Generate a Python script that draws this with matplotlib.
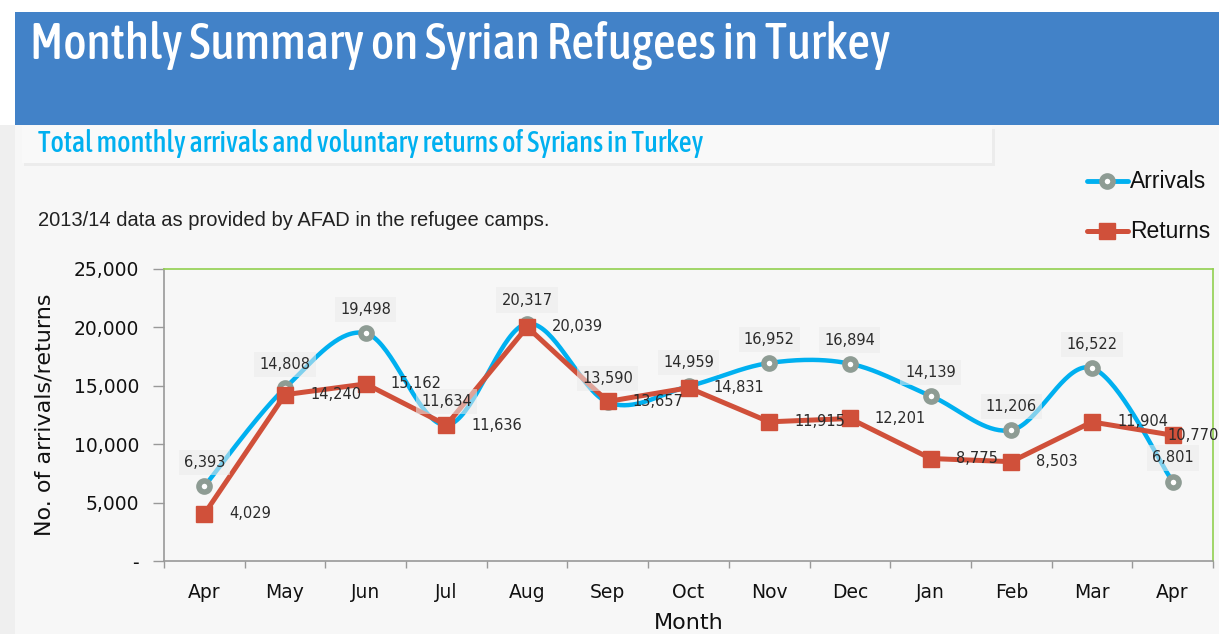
import numpy as np
import matplotlib
matplotlib.use("Agg")
import matplotlib.pyplot as plt
from matplotlib.patches import Rectangle
from matplotlib.lines import Line2D
from matplotlib import font_manager as fm

months = ["Apr", "May", "Jun", "Jul", "Aug", "Sep", "Oct", "Nov", "Dec", "Jan", "Feb", "Mar", "Apr"]
arrivals = [6393, 14808, 19498, 11634, 20317, 13590, 14959, 16952, 16894, 14139, 11206, 16522, 6801]
returns = [4029, 14240, 15162, 11636, 20039, 13657, 14831, 11915, 12201, 8775, 8503, 11904, 10770]
yticks = [0, 5000, 10000, 15000, 20000, 25000]
ytick_labels = ["-", "5,000", "10,000", "15,000", "20,000", "25,000"]
series_names = ["Arrivals", "Returns"]

title = "Monthly Summary on Syrian Refugees in Turkey"
subtitle = "Total monthly arrivals and voluntary returns of Syrians in Turkey"
note = "2013/14 data as provided by AFAD in the refugee camps."


def _w(v):
    if isinstance(v, (int, float)):
        return v
    return fm.weight_dict.get(str(v), 400)


def pick_condensed(target_weight):
    cands = []
    for f in fm.fontManager.ttflist:
        nm = f.name.lower()
        st = f.stretch
        cond = ("condensed" in nm or "narrow" in nm
                or str(st) in ("condensed", "semi-condensed", "extra-condensed")
                or (isinstance(st, int) and st < 500))
        if cond and str(f.style) == "normal" and f.fname.lower().endswith((".ttf", ".otf")):
            cands.append(f)
    if not cands:
        return fm.FontProperties(family="DejaVu Sans",
                                 weight="bold" if target_weight >= 600 else "normal")
    best = min(cands, key=lambda f: abs(_w(f.weight) - target_weight))
    return fm.FontProperties(fname=best.fname)


FP_TITLE = pick_condensed(500)

W, H = 1219, 634
fig = plt.figure(figsize=(W / 100, H / 100), dpi=100, facecolor="white")
renderer = fig.canvas.get_renderer()


def fx(x):
    return x / W


def fy(y):
    return 1 - y / H


def fit(t, target):
    w = t.get_window_extent(renderer=renderer).width
    t.set_fontsize(t.get_fontsize() * target / w)


# background panels
fig.add_artist(Rectangle((fx(0), 0), fx(15), fy(125), transform=fig.transFigure,
                         facecolor="#efefef", edgecolor="none", zorder=0))
fig.add_artist(Rectangle((fx(15), 0), 1 - fx(15), fy(125), transform=fig.transFigure,
                         facecolor="#f7f7f7", edgecolor="none", zorder=0))
fig.add_artist(Rectangle((fx(15), fy(125)), 1 - fx(15), fy(12) - fy(125), transform=fig.transFigure,
                         facecolor="#4282c8", edgecolor="none", zorder=1))
# subtitle box with soft shadow
fig.add_artist(Rectangle((fx(24), fy(166)), fx(971), fy(129) - fy(166), transform=fig.transFigure,
                         facecolor="#ececec", edgecolor="none", zorder=1))
fig.add_artist(Rectangle((fx(22), fy(163)), fx(970), fy(126) - fy(163), transform=fig.transFigure,
                         facecolor="#f9f9f9", edgecolor="none", zorder=2))

t1 = fig.text(fx(30), fy(59), title, color="white", va="baseline", ha="left", zorder=3,
              fontproperties=FP_TITLE)
t1.set_fontsize(36)
fit(t1, 860)
t2 = fig.text(fx(38), fy(152), subtitle, color="#00b0f0", va="baseline", ha="left", zorder=3,
              fontproperties=FP_TITLE.copy())
t2.set_fontsize(18)
fit(t2, 667)
t3 = fig.text(fx(38), fy(226), note, color="#222222", fontsize=13, family="Liberation Sans",
              va="baseline", ha="left", zorder=3)
fit(t3, 510)

ax = fig.add_axes([fx(164), fy(561), fx(1213) - fx(164), fy(269) - fy(561)])
ax.set_facecolor("#f7f7f7")

x = np.arange(len(months))

# smoothed (Bezier, Excel-style) curve through the arrivals points
ya = np.array(arrivals, dtype=float)
pts_x, pts_y = [], []
n = len(ya)
t = np.linspace(0, 1, 40)


def bez(a0, a1, a2, a3):
    return ((1 - t) ** 3 * a0 + 3 * (1 - t) ** 2 * t * a1
            + 3 * (1 - t) * t ** 2 * a2 + t ** 3 * a3)


for i in range(n - 1):
    p0 = ya[i - 1] if i > 0 else ya[i]
    p1, p2 = ya[i], ya[i + 1]
    p3 = ya[i + 2] if i + 2 < n else ya[i + 1]
    x0 = x[i - 1] if i > 0 else x[i]
    x1, x2 = x[i], x[i + 1]
    x3 = x[i + 2] if i + 2 < n else x[i + 1]
    pts_x.extend(bez(x1, x1 + (x2 - x0) / 6, x2 - (x3 - x1) / 6, x2))
    pts_y.extend(bez(p1, p1 + (p2 - p0) / 6, p2 - (p3 - p1) / 6, p2))

blue = "#00b0f0"
red = "#d0503a"
grey = "#8e9c94"

ax.plot(pts_x, pts_y, color=blue, lw=3.2, solid_capstyle="round", zorder=2)
ax.plot(x, arrivals, ls="none", marker="o", ms=8, mfc="white", mec=grey, mew=4, zorder=3)
ax.plot(x, returns, color=red, lw=3.6, marker="s", ms=12, mfc=red, mec=red, zorder=4)

for xi, v in zip(x, arrivals):
    ax.annotate(f"{v:,}", (xi, v), xytext=(0, 17), textcoords="offset points",
                ha="center", va="center", fontsize=10.5, color="#2b2b2b", family="DejaVu Sans",
                bbox=dict(boxstyle="square,pad=0.35", facecolor="#ebebeb", edgecolor="none", alpha=0.55),
                zorder=6)
for i, (xi, v) in enumerate(zip(x, returns)):
    off = (18, 0) if i < len(returns) - 1 else (-4, 0)
    ax.annotate(f"{v:,}", (xi, v), xytext=off, textcoords="offset points",
                ha="left", va="center", fontsize=10.5, color="#2b2b2b", family="DejaVu Sans",
                zorder=7, annotation_clip=False)

ax.set_xlim(-0.5, len(months) - 0.5)
ax.set_ylim(0, 25000)
ax.set_xticks(x)
ax.set_xticklabels(months, fontsize=13.5, family="DejaVu Sans", color="#111111")
ax.set_xticks(np.arange(-0.5, len(months), 1), minor=True)
ax.tick_params(axis="x", which="major", length=0, pad=16)
ax.tick_params(axis="x", which="minor", length=5, color="#999999", width=1)
ax.set_yticks(yticks)
ax.set_yticklabels(ytick_labels, fontsize=13.5, family="DejaVu Sans", color="#111111")
ax.tick_params(axis="y", length=8, color="#999999", width=1, pad=10)

for s in ["left", "bottom"]:
    ax.spines[s].set_color("#999999")
    ax.spines[s].set_linewidth(1.2)
for s in ["top", "right"]:
    ax.spines[s].set_color("#92d050")
    ax.spines[s].set_linewidth(1.2)

ax.set_xlabel("Month", fontsize=16, family="DejaVu Sans", color="#111111", labelpad=8)
ax.set_ylabel("No. of arrivals/returns", fontsize=16, family="DejaVu Sans", color="#111111",
              labelpad=14)

# legend drawn by hand at the reference position
leg_y = [181, 231]
line_styles = [dict(color=blue, lw=3.5), dict(color=red, lw=3.6)]
mark_styles = [dict(marker="o", ms=8, mfc="white", mec=grey, mew=4),
               dict(marker="s", ms=12, mfc=red, mec=red)]
for name, yy, ls_, ms_ in zip(series_names, leg_y, line_styles, mark_styles):
    fig.add_artist(Line2D([fx(1087), fx(1128)], [fy(yy), fy(yy)], transform=fig.transFigure,
                          solid_capstyle="round", **ls_))
    fig.add_artist(Line2D([fx(1107)], [fy(yy)], transform=fig.transFigure, ls="none", **ms_))
    fig.text(fx(1130), fy(yy), name, fontsize=16.5, family="Liberation Sans", color="#111111",
             ha="left", va="center")

fig.savefig("out.png", dpi=100, facecolor=fig.get_facecolor())
